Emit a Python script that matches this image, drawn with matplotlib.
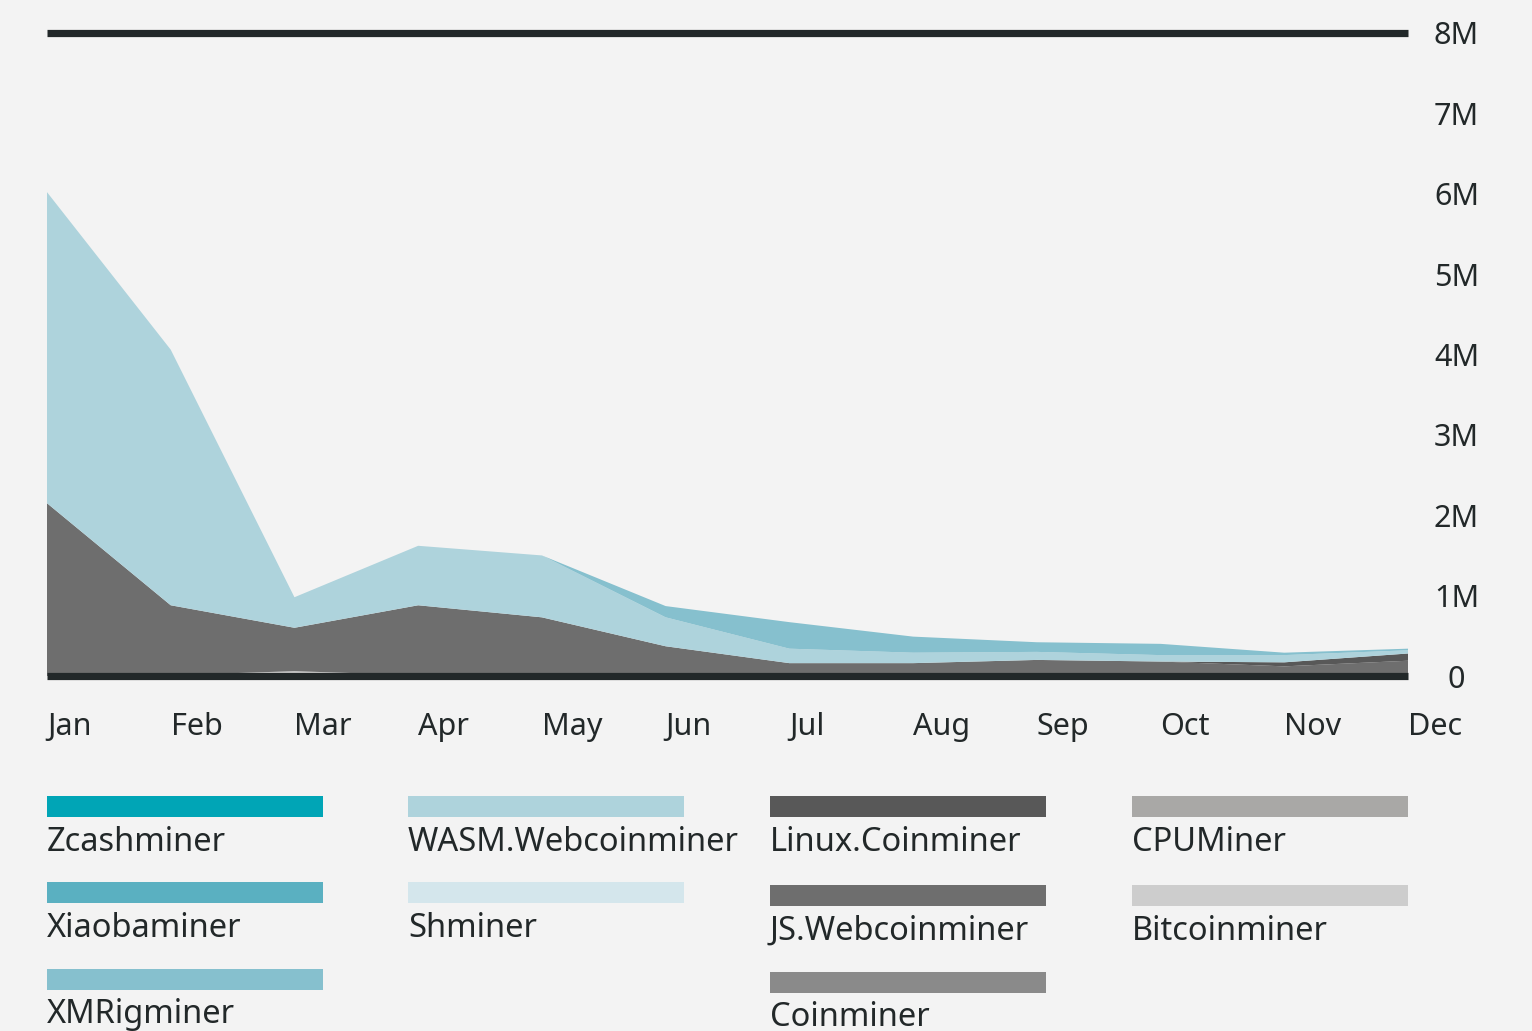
import matplotlib
matplotlib.use("Agg")
import matplotlib.pyplot as plt
from matplotlib.patches import Rectangle
import numpy as np

months = ["Jan", "Feb", "Mar", "Apr", "May", "Jun", "Jul", "Aug", "Sep", "Oct", "Nov", "Dec"]

# values in millions, stacking order bottom -> top
bitcoinminer = [0.0, 0.01, 0.06, 0.01, 0.0, 0.0, 0.0, 0.0, 0.0, 0.0, 0.0, 0.0]
cpuminer = [0, 0, 0, 0, 0, 0, 0, 0, 0, 0, 0, 0]
coinminer = [0, 0, 0, 0, 0, 0, 0, 0, 0, 0, 0, 0]
js_webcoinminer = [2.15, 0.87, 0.54, 0.87, 0.73, 0.37, 0.16, 0.16, 0.20, 0.18, 0.12, 0.19]
linux_coinminer = [0, 0, 0, 0, 0, 0, 0, 0, 0, 0.0, 0.05, 0.09]
shminer = [0, 0, 0, 0, 0, 0, 0, 0, 0, 0, 0, 0]
wasm_webcoinminer = [3.87, 3.18, 0.38, 0.74, 0.77, 0.36, 0.18, 0.13, 0.10, 0.08, 0.09, 0.04]
xmrigminer = [0, 0, 0, 0, 0, 0.14, 0.33, 0.20, 0.12, 0.14, 0.03, 0.02]
xiaobaminer = [0, 0, 0, 0, 0, 0, 0, 0, 0, 0, 0, 0]
zcashminer = [0, 0, 0, 0, 0, 0, 0, 0, 0, 0, 0, 0]

y_ticks = [0, 1, 2, 3, 4, 5, 6, 7, 8]
y_tick_labels = ["0", "1M", "2M", "3M", "4M", "5M", "6M", "7M", "8M"]

series_names = ["Bitcoinminer", "CPUMiner", "Coinminer", "JS.Webcoinminer", "Linux.Coinminer",
                "Shminer", "WASM.Webcoinminer", "XMRigminer", "Xiaobaminer", "Zcashminer"]
series_vals = [bitcoinminer, cpuminer, coinminer, js_webcoinminer, linux_coinminer,
               shminer, wasm_webcoinminer, xmrigminer, xiaobaminer, zcashminer]
colors = {
    "Zcashminer": "#00a5b6",
    "Xiaobaminer": "#5ab0c1",
    "XMRigminer": "#86c0ce",
    "WASM.Webcoinminer": "#aed3dc",
    "Shminer": "#d4e6ec",
    "Linux.Coinminer": "#585858",
    "JS.Webcoinminer": "#6e6e6e",
    "Coinminer": "#8a8a8a",
    "CPUMiner": "#a9a8a6",
    "Bitcoinminer": "#cdcdcd",
}

BG = "#f3f3f3"
TXT = "#222829"
plt.rcParams['font.family'] = ['Noto Sans', 'DejaVu Sans']

W, H = 1532, 1031
fig = plt.figure(figsize=(W / 100, H / 100), dpi=100, facecolor=BG)
x0, x1, ytop, ybot = 47, 1408, 33, 676
ax = fig.add_axes([x0 / W, (H - ybot) / H, (x1 - x0) / W, (ybot - ytop) / H])
ax.set_facecolor(BG)

x = np.arange(len(months))
vals = np.array(series_vals, dtype=float) * 1e6
ax.stackplot(x, vals, colors=[colors[n] for n in series_names], linewidth=0)

ax.set_xlim(0, len(months) - 1)
ax.set_ylim(0, 8e6)
for s in ax.spines.values():
    s.set_visible(False)

ax.axhline(8e6, color=TXT, lw=5.2, clip_on=False, zorder=5, solid_capstyle='butt')
ax.axhline(0, color=TXT, lw=5.2, clip_on=False, zorder=5, solid_capstyle='butt')

ax.yaxis.tick_right()
ax.set_yticks([v * 1e6 for v in y_ticks])
ax.set_yticklabels(y_tick_labels)
ax.tick_params(axis='y', length=0, pad=35, labelsize=22, labelcolor=TXT)
for lab in ax.get_yticklabels():
    lab.set_horizontalalignment('center')

ax.set_xticks(x)
ax.set_xticklabels(months)
ax.tick_params(axis='x', length=0, pad=26, labelsize=22, labelcolor=TXT)
for lab in ax.get_xticklabels():
    lab.set_horizontalalignment('left')

# legend
legend_layout = [
    ("Zcashminer", 47, 796, 851),
    ("Xiaobaminer", 47, 882, 937),
    ("XMRigminer", 47, 969, 1023),
    ("WASM.Webcoinminer", 408, 796, 851),
    ("Shminer", 408, 882, 937),
    ("Linux.Coinminer", 770, 796, 851),
    ("JS.Webcoinminer", 770, 885, 940),
    ("Coinminer", 770, 972, 1026),
    ("CPUMiner", 1132, 796, 851),
    ("Bitcoinminer", 1132, 885, 940),
]
sw_w, sw_h = 276, 21
for name, lx, sy, base in legend_layout:
    fig.patches.append(Rectangle((lx / W, (H - sy - sw_h) / H), sw_w / W, sw_h / H,
                                 transform=fig.transFigure, facecolor=colors[name],
                                 edgecolor='none'))
    fig.text(lx / W, (H - base) / H, name, fontsize=23.5, color=TXT,
             ha='left', va='baseline')

fig.savefig("out.png", dpi=100, facecolor=BG)
